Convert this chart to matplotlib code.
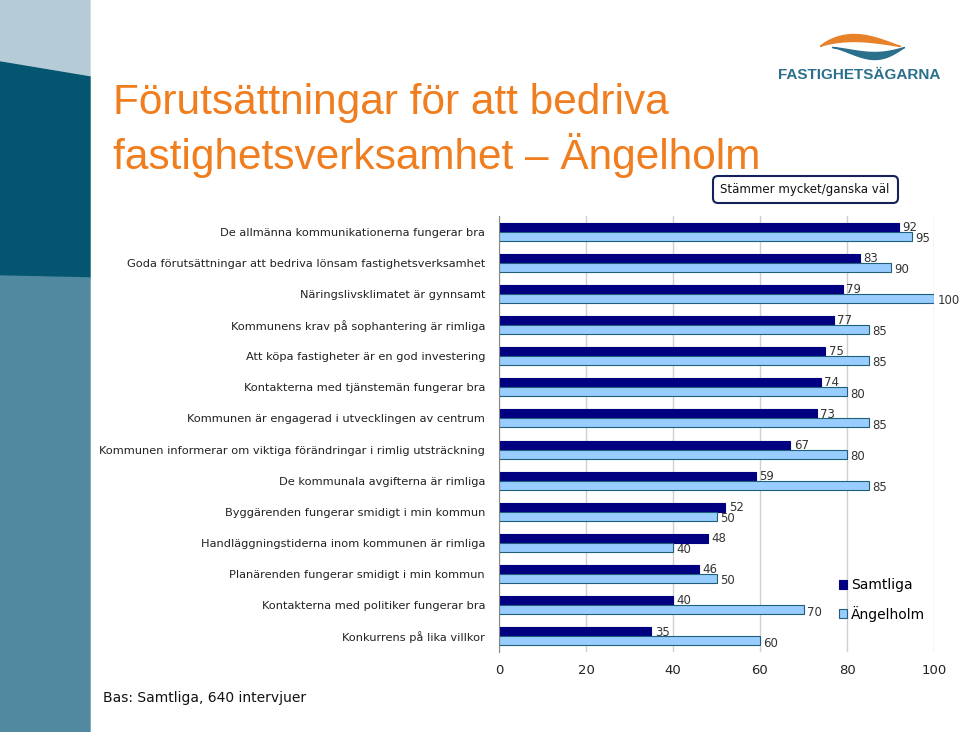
import matplotlib.pyplot as plt
import numpy as np
from matplotlib.patches import Polygon, FancyBboxPatch

categories = [
    "De allmänna kommunikationerna fungerar bra",
    "Goda förutsättningar att bedriva lönsam fastighetsverksamhet",
    "Näringslivsklimatet är gynnsamt",
    "Kommunens krav på sophantering är rimliga",
    "Att köpa fastigheter är en god investering",
    "Kontakterna med tjänstemän fungerar bra",
    "Kommunen är engagerad i utvecklingen av centrum",
    "Kommunen informerar om viktiga förändringar i rimlig utsträckning",
    "De kommunala avgifterna är rimliga",
    "Byggärenden fungerar smidigt i min kommun",
    "Handläggningstiderna inom kommunen är rimliga",
    "Planärenden fungerar smidigt i min kommun",
    "Kontakterna med politiker fungerar bra",
    "Konkurrens på lika villkor",
]
samtliga = [92, 83, 79, 77, 75, 74, 73, 67, 59, 52, 48, 46, 40, 35]
angelholm = [95, 90, 100, 85, 85, 80, 85, 80, 85, 50, 40, 50, 70, 60]
xticks = [0, 20, 40, 60, 80, 100]

dark = "#000080"
light = "#99CCFF"
edge = "#1F5F7A"
txt = "#333333"

fig = plt.figure(figsize=(9.6, 7.32), dpi=100)
W, H = 960, 732

# left decoration band
bg = fig.add_axes([0, 0, 1, 1])
bg.set_xlim(0, W)
bg.set_ylim(H, 0)
bg.axis("off")
bg.add_patch(Polygon([(0, 0), (90, 0), (90, 77), (0, 62)], color="#B5CCD8"))
bg.add_patch(Polygon([(0, 62), (90, 77), (90, 278), (0, 276)], color="#04556F"))
bg.add_patch(Polygon([(0, 276), (90, 278), (90, 732), (0, 732)], color="#518AA0"))

# logo (rough swooshes + name)
t = np.linspace(0, 1, 60)
ox = 820 + 80 * t
bg.fill_between(ox, 46 - 12 * np.sin(np.pi * t ** 0.8), 46 - 5 * np.sin(np.pi * t ** 0.8),
                color="#E8822A")
tx = 832 + 72 * t
bg.fill_between(tx, 47 + 12 * np.sin(np.pi * t ** 1.3), 47 + 5 * np.sin(np.pi * t ** 1.3),
                color="#2A6F8C")
bg.text(859, 75, "FASTIGHETSÄGARNA", color="#2A6F8C", fontsize=11, fontweight="bold",
        ha="center", va="center", family="Liberation Sans")

# title
bg.text(113, 103, "Förutsättningar för att bedriva", color="#F07D1E", fontsize=30.5,
        family="Liberation Sans", va="center", ha="left")
bg.text(113, 155, "fastighetsverksamhet – Ängelholm", color="#F07D1E", fontsize=30.5,
        family="Liberation Sans", va="center", ha="left")

# box
bg.add_patch(FancyBboxPatch((713, 176), 185, 27, boxstyle="round,pad=0,rounding_size=5",
                            fc="white", ec="#14215A", lw=1.5))
bg.text(805, 190, "Stämmer mycket/ganska väl", fontsize=8.5, ha="center", va="center",
        color="#111111")

bg.text(103, 698, "Bas: Samtliga, 640 intervjuer", fontsize=10, ha="left", va="center",
        color="#111111")

# chart
ax = fig.add_axes([499 / W, 1 - 652 / H, 435 / W, 436 / H])
n = len(categories)
y = np.arange(n)
h = 0.29
ax.barh(y - h / 2, samtliga, height=h, color=dark, edgecolor=dark, lw=0.8, label="Samtliga")
ax.barh(y + h / 2, angelholm, height=h, color=light, edgecolor=edge, lw=0.8, label="Ängelholm")
for i in range(n):
    ax.text(samtliga[i] + 0.8, y[i] - 0.14, str(samtliga[i]), fontsize=8.5, color=txt,
            ha="left", va="center")
    ax.text(angelholm[i] + 0.8, y[i] + 0.22, str(angelholm[i]), fontsize=8.5, color=txt,
            ha="left", va="center")
ax.set_ylim(n - 0.5, -0.5)
ax.set_xlim(0, 100)
ax.set_yticks(y)
ax.set_yticklabels(categories, fontsize=8.2, color="#222222")
ax.set_xticks(xticks)
ax.tick_params(axis="x", length=0, labelsize=9.5, pad=9, colors="#222222")
ax.tick_params(axis="y", length=0, pad=10)
ax.xaxis.grid(True, color="#D0D0D0", lw=1)
ax.set_axisbelow(True)
for s in ["top", "right", "bottom"]:
    ax.spines[s].set_visible(False)
ax.spines["left"].set_color("#888888")

ax.legend(loc="lower right", bbox_to_anchor=(1.009, 0.041), frameon=False, fontsize=10,
          handlelength=0.6, handleheight=0.6, labelspacing=0.95, handletextpad=0.3)

fig.savefig("out.png", dpi=100)
